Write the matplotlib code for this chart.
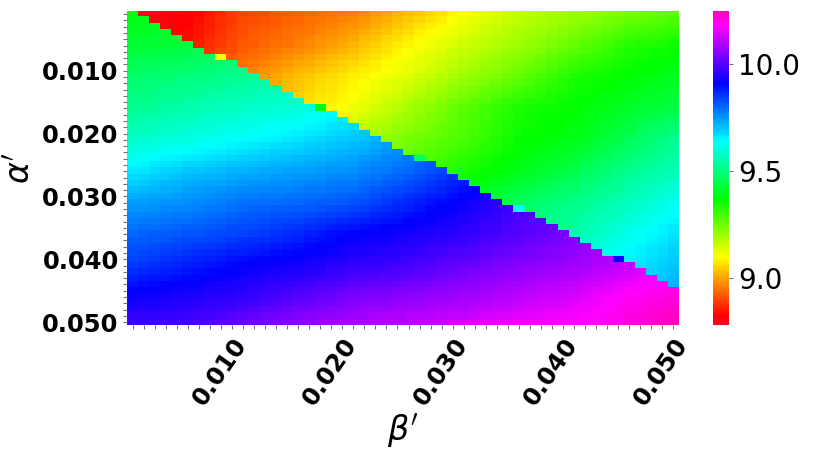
import numpy as np
import matplotlib
matplotlib.use("Agg")
import matplotlib.pyplot as plt
from matplotlib.ticker import MultipleLocator

# parameter grid (50 x 50 cells)
alpha_vals = np.arange(1, 51) * 0.001
beta_vals = np.arange(1, 51) * 0.001

# first row (alpha index) of the lower regime in every beta column
boundary_row = [0, 1, 2, 3, 4, 5, 6, 7, 8,
                8, 9, 10, 11, 12, 13, 14, 15, 16,
                16, 17, 18, 19, 20, 21, 22, 23, 24,
                24, 25, 26, 27, 28, 29, 30, 31, 32,
                32, 33, 34, 35, 36, 37, 38, 39, 40,
                40, 41, 42, 43, 44]

# values on a coarse grid (row = alpha index, col = beta index)
grid_rows = [0, 5, 10, 15, 20, 25, 30, 35, 40, 45, 49]
grid_cols = [0, 5, 10, 15, 20, 25, 30, 35, 40, 45, 49]

upper_vals = [
    [8.79, 8.82, 8.90, 8.93, 8.96, 9.03, 9.10, 9.16, 9.20, 9.24, 9.27],
    [8.80, 8.84, 8.92, 8.96, 9.02, 9.09, 9.15, 9.20, 9.26, 9.33, 9.35],
    [8.84, 8.88, 8.96, 9.03, 9.08, 9.13, 9.20, 9.26, 9.34, 9.37, 9.40],
    [8.90, 8.95, 9.00, 9.06, 9.11, 9.19, 9.27, 9.34, 9.37, 9.41, 9.44],
    [8.95, 9.00, 9.06, 9.12, 9.18, 9.24, 9.29, 9.36, 9.39, 9.46, 9.52],
    [9.00, 9.05, 9.11, 9.17, 9.23, 9.29, 9.34, 9.39, 9.45, 9.52, 9.56],
    [9.05, 9.10, 9.16, 9.22, 9.28, 9.34, 9.40, 9.47, 9.51, 9.57, 9.62],
    [9.10, 9.15, 9.21, 9.27, 9.33, 9.39, 9.45, 9.51, 9.55, 9.62, 9.67],
    [9.15, 9.20, 9.26, 9.32, 9.38, 9.44, 9.50, 9.56, 9.61, 9.66, 9.70],
    [9.20, 9.25, 9.31, 9.37, 9.43, 9.49, 9.55, 9.61, 9.66, 9.70, 9.73],
    [9.24, 9.29, 9.35, 9.41, 9.47, 9.53, 9.59, 9.65, 9.70, 9.74, 9.76],
]

lower_vals = [
    [9.38, 9.42, 9.46, 9.50, 9.55, 9.60, 9.66, 9.72, 9.78, 9.84, 9.90],
    [9.42, 9.43, 9.48, 9.52, 9.57, 9.63, 9.70, 9.76, 9.82, 9.88, 9.93],
    [9.48, 9.50, 9.52, 9.56, 9.61, 9.67, 9.74, 9.80, 9.86, 9.92, 9.97],
    [9.52, 9.55, 9.58, 9.60, 9.65, 9.71, 9.78, 9.84, 9.90, 9.96, 10.01],
    [9.58, 9.61, 9.64, 9.67, 9.70, 9.75, 9.82, 9.88, 9.94, 10.00, 10.05],
    [9.66, 9.70, 9.72, 9.74, 9.76, 9.80, 9.86, 9.93, 9.98, 10.04, 10.09],
    [9.74, 9.76, 9.79, 9.80, 9.82, 9.87, 9.92, 9.98, 10.02, 10.08, 10.13],
    [9.80, 9.82, 9.84, 9.87, 9.91, 9.93, 9.96, 10.00, 10.04, 10.10, 10.16],
    [9.85, 9.88, 9.91, 9.93, 9.96, 9.98, 10.02, 10.05, 10.08, 10.12, 10.18],
    [9.92, 9.94, 9.96, 10.00, 10.04, 10.06, 10.08, 10.11, 10.14, 10.19, 10.21],
    [9.97, 9.98, 10.02, 10.06, 10.09, 10.11, 10.13, 10.16, 10.18, 10.21, 10.25],
]

# single odd cells on the border: (row, col, value)
outlier_cells = [(7, 8, 9.10), (15, 17, 9.38), (23, 26, 9.48),
                 (31, 35, 9.63), (39, 44, 9.93)]


def to_full_grid(table):
    """Spread a coarse table over the 50 x 50 cells."""
    idx = np.arange(50)
    tmp = np.array([np.interp(idx, grid_cols, r) for r in table])
    return np.array([np.interp(idx, grid_rows, tmp[:, j]) for j in range(50)]).T


upper = to_full_grid(upper_vals)
lower = to_full_grid(lower_vals)
rr, cc = np.meshgrid(np.arange(50), np.arange(50), indexing="ij")
field = np.where(rr < np.array(boundary_row)[cc], upper, lower)
for r, c, v in outlier_cells:
    field[r, c] = v

fig = plt.figure(figsize=(8.22, 4.54), dpi=100)
ax = fig.add_axes([0.1545, 0.2835, 0.6715, 0.6923])
cax = fig.add_axes([0.8674, 0.2835, 0.0195, 0.6923])

im = ax.imshow(field, cmap="gist_rainbow", vmin=8.78, vmax=10.25,
               aspect="auto", interpolation="nearest",
               extent=[beta_vals[0] - 0.0005, beta_vals[-1] + 0.0005,
                       alpha_vals[-1] + 0.0005, alpha_vals[0] - 0.0005])

ticks = [0.010, 0.020, 0.030, 0.040, 0.050]
ax.set_xticks(ticks)
ax.set_yticks(ticks)
ax.set_xticklabels(["%.3f" % t for t in ticks], rotation=55, ha="right",
                   rotation_mode="anchor", fontsize=17.5, fontweight="bold")
ax.set_yticklabels(["%.3f" % t for t in ticks], fontsize=17.5, fontweight="bold")
ax.xaxis.set_minor_locator(MultipleLocator(0.001))
ax.yaxis.set_minor_locator(MultipleLocator(0.001))
ax.tick_params(which="both", length=3, width=0.8, color="0.45", pad=3)
for s in ax.spines.values():
    s.set_visible(False)

ax.set_xlabel(r"$\beta'$", fontsize=24, labelpad=2)
ax.set_ylabel(r"$\alpha'$", fontsize=24, labelpad=4)

cbar = fig.colorbar(im, cax=cax, ticks=[9.0, 9.5, 10.0])
cbar.outline.set_visible(False)
cbar.ax.tick_params(labelsize=20, length=3, width=0.8, color="0.45")

plt.savefig("out.png", dpi=100)
